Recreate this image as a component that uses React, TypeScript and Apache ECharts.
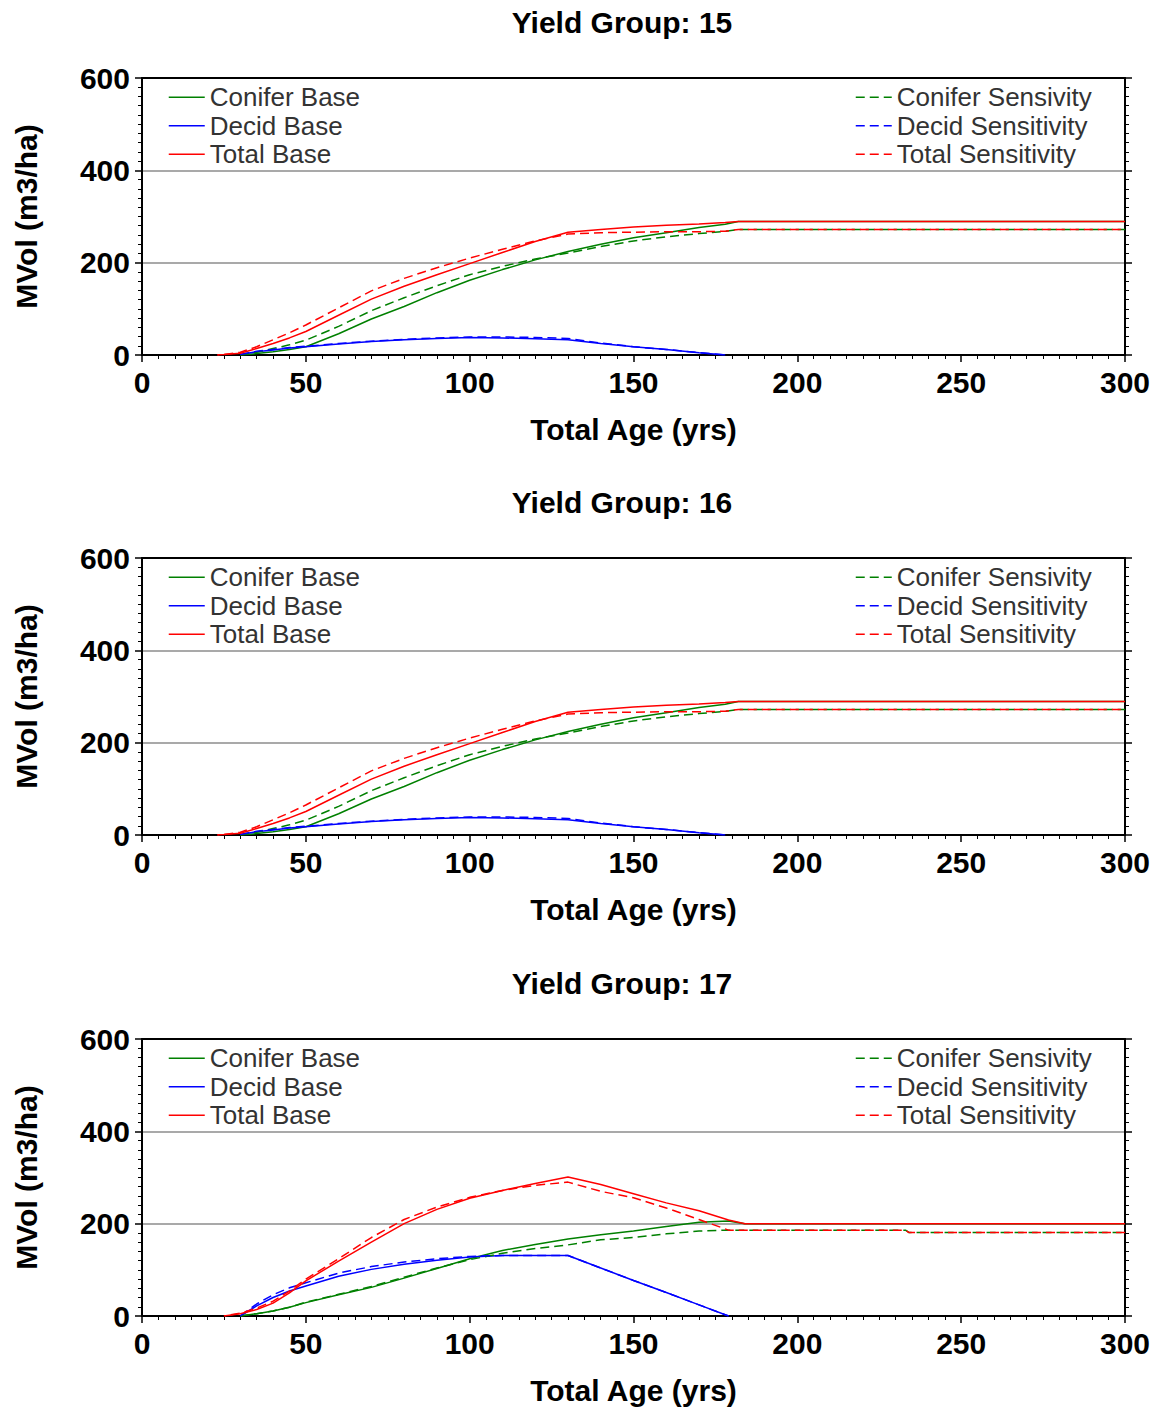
import React, { useEffect, useRef } from "react";
import * as echarts from "echarts";

// ---------- DATA ----------
const TITLES = ["Yield Group: 15", "Yield Group: 16", "Yield Group: 17"];
const X_TICKS = [0, 50, 100, 150, 200, 250, 300];
const Y_TICKS = [0, 200, 400, 600];

// Yield group 15
const AGES_15 = [23, 25, 30, 35, 40, 45, 50, 60, 70, 80, 90, 100, 110, 120, 130, 140, 150, 160, 170, 178, 182, 300];
const CONIFER_BASE_15 = [null, null, 0, 3, 7, 12, 18, 46, 78, 105, 135, 162, 185, 206, 224, 240, 254, 265, 276, 283, 289, 289];
const DECID_BASE_15 = [null, null, 1, 7, 11, 15, 18, 24, 29, 33, 36, 38, 37, 35, 33, 25, 18, 12, 5, 0, null, null];
const TOTAL_BASE_15 = [0, 1, 4, 14, 25, 37, 51, 86, 121, 149, 174, 198, 222, 246, 266, 272, 277, 281, 284, 287, 289, 289];
const CONIFER_SENS_15 = [null, null, 0, 6, 14, 22, 32, 62, 96, 124, 150, 174, 192, 208, 221, 235, 247, 256, 263, 268, 272, 272];
const DECID_SENS_15 = [null, null, 1, 8, 12, 16, 19, 25, 30, 34, 37, 39, 39, 38, 36, 26, 18, 12, 5, 0, null, null];
const TOTAL_SENS_15 = [0, 1, 6, 18, 33, 48, 65, 102, 139, 166, 189, 210, 229, 247, 262, 265, 266, 267, 267, 268, 272, 272];

// Yield group 16
const AGES_16 = [23, 25, 30, 35, 40, 45, 50, 60, 70, 80, 90, 100, 110, 120, 130, 140, 150, 160, 170, 178, 182, 300];
const CONIFER_BASE_16 = [null, null, 0, 3, 7, 12, 18, 46, 78, 105, 135, 162, 185, 206, 224, 240, 254, 265, 276, 283, 289, 289];
const DECID_BASE_16 = [null, null, 1, 7, 11, 15, 18, 24, 29, 33, 36, 38, 37, 35, 33, 25, 18, 12, 5, 0, null, null];
const TOTAL_BASE_16 = [0, 1, 4, 14, 25, 37, 51, 86, 121, 149, 174, 198, 222, 246, 266, 272, 277, 281, 284, 287, 289, 289];
const CONIFER_SENS_16 = [null, null, 0, 6, 14, 22, 32, 62, 96, 124, 150, 174, 192, 208, 221, 235, 247, 256, 263, 268, 272, 272];
const DECID_SENS_16 = [null, null, 1, 8, 12, 16, 19, 25, 30, 34, 37, 39, 39, 38, 36, 26, 18, 12, 5, 0, null, null];
const TOTAL_SENS_16 = [0, 1, 6, 18, 33, 48, 65, 102, 139, 166, 189, 210, 229, 247, 262, 265, 266, 267, 267, 268, 272, 272];

// Yield group 17
const AGES_17 = [25, 30, 35, 40, 45, 50, 60, 70, 80, 90, 100, 110, 120, 130, 140, 150, 160, 170, 179, 184, 233, 234, 300];
const CONIFER_BASE_17 = [null, 0, 5, 11, 19, 29, 46, 62, 82, 103, 124, 142, 155, 167, 176, 184, 194, 203, 206, 200, 200, 200, 200];
const DECID_BASE_17 = [null, 0, 22, 40, 54, 65, 86, 101, 112, 121, 128, 131, 131, 131, 104, 77, 51, 24, 0, null, null, null, null];
const TOTAL_BASE_17 = [0, 5, 14, 28, 50, 76, 119, 160, 200, 231, 255, 272, 287, 301, 285, 265, 245, 228, 208, 200, 200, 200, 200];
const CONIFER_SENS_17 = [null, 0, 5, 11, 19, 30, 47, 64, 84, 104, 122, 136, 146, 154, 165, 170, 178, 184, 186, 186, 186, 181, 181];
const DECID_SENS_17 = [null, 0, 26, 46, 61, 72, 93, 107, 117, 124, 129, 131, 131, 131, 104, 77, 51, 24, 0, null, null, null, null];
const TOTAL_SENS_17 = [0, 6, 17, 32, 54, 80, 124, 170, 209, 236, 257, 272, 283, 290, 270, 256, 234, 209, 186, 186, 186, 181, 181];

const GROUPS = [
  { ages: AGES_15, cb: CONIFER_BASE_15, db: DECID_BASE_15, tb: TOTAL_BASE_15, cs: CONIFER_SENS_15, ds: DECID_SENS_15, ts: TOTAL_SENS_15 },
  { ages: AGES_16, cb: CONIFER_BASE_16, db: DECID_BASE_16, tb: TOTAL_BASE_16, cs: CONIFER_SENS_16, ds: DECID_SENS_16, ts: TOTAL_SENS_16 },
  { ages: AGES_17, cb: CONIFER_BASE_17, db: DECID_BASE_17, tb: TOTAL_BASE_17, cs: CONIFER_SENS_17, ds: DECID_SENS_17, ts: TOTAL_SENS_17 },
];

// ---------- STYLE ----------
const FONT = "'Liberation Sans', Arial, Helvetica, sans-serif";
const GREEN = "#008000";
const BLUE = "#0000ff";
const RED = "#ff0000";
const OFFSETS = [0, 480, 961];
const TITLE_Y = [22, 502, 983];

function buildOption() {
  const grid: any[] = [];
  const xAxis: any[] = [];
  const yAxis: any[] = [];
  const series: any[] = [];
  const legend: any[] = [];
  const graphic: any[] = [];

  GROUPS.forEach((g, i) => {
    const off = OFFSETS[i];
    grid.push({ left: 142, top: 78 + off, width: 983, height: 277, containLabel: false });

    const xMin = X_TICKS[0];
    const xMax = X_TICKS[X_TICKS.length - 1];
    const xInt = X_TICKS[1] - X_TICKS[0];
    const yMin = Y_TICKS[0];
    const yMax = Y_TICKS[Y_TICKS.length - 1];
    const yInt = Y_TICKS[1] - Y_TICKS[0];

    xAxis.push({
      gridIndex: i,
      type: "value",
      position: "bottom",
      min: xMin,
      max: xMax,
      interval: xInt,
      axisLine: { show: true, onZero: false, lineStyle: { color: "#000", width: 2 } },
      axisTick: { show: true, length: 7, lineStyle: { color: "#000", width: 1.5 } },
      minorTick: { show: true, splitNumber: 10, length: 4, lineStyle: { color: "#000", width: 1 } },
      minorSplitLine: { show: false },
      splitLine: { show: false },
      axisLabel: { fontFamily: FONT, fontSize: 30, fontWeight: "bold", color: "#000", margin: 12 },
      name: "Total Age (yrs)",
      nameLocation: "middle",
      nameGap: 59,
      nameTextStyle: { fontFamily: FONT, fontSize: 30, fontWeight: "bold", color: "#000" },
    });
    xAxis.push({
      gridIndex: i,
      type: "value",
      position: "top",
      min: xMin,
      max: xMax,
      interval: xInt,
      axisLine: { show: true, onZero: false, lineStyle: { color: "#000", width: 2 } },
      axisTick: { show: false },
      axisLabel: { show: false },
      splitLine: { show: false },
    });

    yAxis.push({
      gridIndex: i,
      type: "value",
      position: "left",
      min: yMin,
      max: yMax,
      interval: yInt,
      axisLine: { show: true, onZero: false, lineStyle: { color: "#000", width: 2 } },
      axisTick: { show: true, length: 7, lineStyle: { color: "#000", width: 1.5 } },
      minorTick: { show: true, splitNumber: 10, length: 4, lineStyle: { color: "#000", width: 1 } },
      splitLine: { show: true, showMinLine: false, showMaxLine: false, lineStyle: { color: "#8c8c8c", width: 1.5 } },
      axisLabel: { fontFamily: FONT, fontSize: 30, fontWeight: "bold", color: "#000", margin: 12 },
      name: "MVol (m3/ha)",
      nameLocation: "middle",
      nameGap: 101,
      nameTextStyle: { fontFamily: FONT, fontSize: 30, fontWeight: "bold", color: "#000" },
    });
    yAxis.push({
      gridIndex: i,
      type: "value",
      position: "right",
      min: yMin,
      max: yMax,
      interval: yInt,
      axisLine: { show: true, onZero: false, lineStyle: { color: "#000", width: 2 } },
      axisTick: { show: true, length: 7, lineStyle: { color: "#000", width: 1.5 } },
      minorTick: { show: true, splitNumber: 10, length: 4, lineStyle: { color: "#000", width: 1 } },
      splitLine: { show: false },
      axisLabel: { show: false },
    });

    const mk = (name: string, vals: (number | null)[], color: string, dashed: boolean, dashOffset = 0, z = 2) => ({
      type: "line",
      name,
      xAxisIndex: i * 2,
      yAxisIndex: i * 2,
      data: g.ages.map((a, k) => [a, vals[k]]),
      symbol: "none",
      showSymbol: false,
      color,
      itemStyle: { color },
      lineStyle: { color, width: 1.5, type: dashed ? [9, 5] : "solid", dashOffset },
      connectNulls: false,
      silent: true,
      z,
    });

    series.push(mk("Conifer Base", g.cb, GREEN, false, 0, 2));
    series.push(mk("Decid Base", g.db, BLUE, false, 0, 2));
    series.push(mk("Conifer Sensivity", g.cs, GREEN, true, 0, 3));
    series.push(mk("Decid Sensitivity", g.ds, BLUE, true, 0, 3));
    series.push(mk("Total Base", g.tb, RED, false, 0, 4));
    series.push(mk("Total Sensitivity", g.ts, RED, true, 7, 4));

    const legendCommon = {
      orient: "vertical",
      top: 83 + off,
      itemWidth: 36,
      itemHeight: 14,
      itemGap: 0,
      padding: 0,
      selectedMode: false,
      itemStyle: { opacity: 0, borderWidth: 0 },
      lineStyle: { width: 1.5, dashOffset: 0 },
      textStyle: { fontFamily: FONT, fontSize: 26, color: "#333", lineHeight: 28.5 },
    };
    legend.push({ ...legendCommon, left: 168, data: ["Conifer Base", "Decid Base", "Total Base"] });
    legend.push({ ...legendCommon, left: 855, data: ["Conifer Sensivity", "Decid Sensitivity", "Total Sensitivity"] });

    graphic.push({
      type: "text",
      x: 622,
      y: TITLE_Y[i],
      style: {
        text: TITLES[i],
        fontFamily: FONT,
        fontSize: 30,
        fontWeight: "bold",
        fill: "#000",
        align: "center",
        verticalAlign: "middle",
        textAlign: "center",
        textVerticalAlign: "middle",
      },
    });
  });

  return {
    animation: false,
    backgroundColor: "#ffffff",
    grid,
    xAxis,
    yAxis,
    series,
    legend,
    graphic,
  };
}

export default function App() {
  const ref = useRef<HTMLDivElement>(null);
  useEffect(() => {
    document.body.style.margin = "0";
    const chart = echarts.init(ref.current!, undefined, { renderer: "svg" });
    chart.setOption(buildOption() as any);
    return () => chart.dispose();
  }, []);
  return <div ref={ref} style={{ width: 1156, height: 1410, background: "#fff" }} />;
}
